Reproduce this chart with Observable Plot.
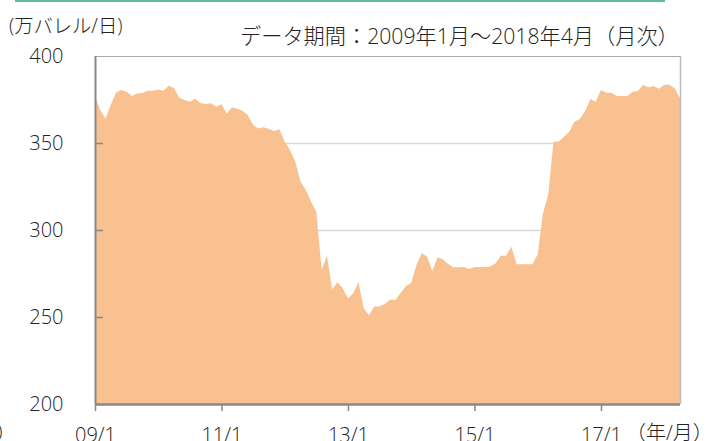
<!DOCTYPE html>
<html>
<head>
<meta charset="utf-8">
<script src="https://cdn.jsdelivr.net/npm/d3@7"></script>
<script src="https://cdn.jsdelivr.net/npm/@observablehq/plot@0.6"></script>
<style>
  html, body { margin: 0; padding: 0; background: #fff; overflow: hidden; }
  #wrap { position: relative; width: 718px; height: 441px; font-family: "Open Sans", "Noto Sans CJK JP", sans-serif; font-weight: 300; color: #222; }
  #wrap svg { position: absolute; left: 0; top: 0; }
  .lbl { position: absolute; white-space: nowrap; font-size: 20px; line-height: 1; }
  #topline { position: absolute; left: 15px; top: 0; width: 650px; height: 2px; background: #5fbf98; }
</style>
</head>
<body>
<div id="wrap">
  <div id="topline"></div>
  <div class="lbl" id="unit" style="left:9px; top:16px; font-size:19.3px;">(万バレル/日)</div>
  <div class="lbl" id="title" style="left:240px; top:25px; font-size:21.2px;">データ期間：2009年1月～2018年4月（月次）</div>
  <div class="lbl" id="xunit" style="left:626px; top:423px;">（年/月）</div>
  <div class="lbl" id="lp" style="left:-4px; top:423px;">）</div>
</div>
<script>
// Monthly values, 2009/1 .. 2018/4 (万バレル/日)
const startYear = 2009;
const values = [
  377, 369, 364, 372, 379, 380.5, 379.5, 377, 378.5, 378.7, 380, 380,
  380.8, 380, 383, 381.4, 376, 374.7, 373.7, 375.5, 373, 372.4, 372.8, 370.9,
  372.2, 367, 370.5, 369.7, 368.6, 366, 360.3, 358.4, 359, 358, 356.9, 357.9,
  350.7, 346, 339.3, 327.8, 323, 316.3, 310.5, 277, 285.2, 266, 270, 266.5,
  260.7, 263.6, 270, 255, 251, 256, 256, 257.5, 260, 259.8, 264, 267.8,
  269.7, 280, 286.6, 284.7, 276.4, 284.3, 283.2, 280.5, 278.6, 278.6, 278.7, 277.6,
  278.7, 278.7, 278.7, 279, 280.9, 285.2, 285.2, 290.4, 280.3, 280.3, 280.3, 280.3,
  286, 309.6, 320.5, 350.8, 350.8, 353.6, 356.5, 362.3, 363.8, 368.4, 375.3, 373.7,
  380.5, 378.9, 378.9, 377, 377, 377, 379.5, 379.9, 383.3, 382, 382.8, 381.2,
  383.5, 383.5, 381.4, 375.7
];
const xTickIndex = [0, 24, 48, 72, 96];
const xTickLabels = ["09/1", "11/1", "13/1", "15/1", "17/1"];
const yTicks = [200, 250, 300, 350, 400];
const yGrid = [250, 300, 350];
const yDomain = [200, 400];

const data = values.map((v, i) => ({i, v}));
const lastIndex = values.length - 1;

const chart = Plot.plot({
  width: 718,
  height: 441,
  marginLeft: 95,
  marginRight: 38,
  marginTop: 56,
  marginBottom: 37,
  style: {fontFamily: '"Open Sans", "Noto Sans CJK JP", sans-serif', fontWeight: 300, fontSize: "20px", color: "#222", background: "transparent", overflow: "visible"},
  x: {domain: [0, lastIndex], type: "linear"},
  y: {domain: yDomain},
  marks: [
    Plot.gridY(yGrid, {stroke: "#d9d9d9", strokeOpacity: 1, strokeWidth: 1.5}),
    Plot.areaY(data, {x: "i", y1: yDomain[0], y2: "v", fill: "#f9c190", curve: "linear"}),
    Plot.ruleY([yDomain[1]], {stroke: "#aaa", strokeWidth: 1}),
    Plot.ruleX([lastIndex], {stroke: "#bbb", strokeWidth: 1.5}),
    Plot.axisY({ticks: yTicks, tickSize: 0, tickPadding: 32, label: null, fontSize: 20}),
    Plot.axisY({ticks: yGrid, tickSize: -8, tickFormat: () => "", label: null, stroke: "#888", strokeWidth: 1.5}),
    Plot.axisX({ticks: xTickIndex, tickFormat: d => xTickLabels[xTickIndex.indexOf(d)], tickSize: 7, tickPadding: 16, label: null, fontSize: 20, stroke: "#888", strokeWidth: 1.5}),
    Plot.ruleX([0], {stroke: "#888", strokeWidth: 2}),
    Plot.ruleY([yDomain[0]], {stroke: "#888", strokeWidth: 2.5})
  ]
});
document.getElementById("wrap").prepend(chart);
</script>
</body>
</html>
